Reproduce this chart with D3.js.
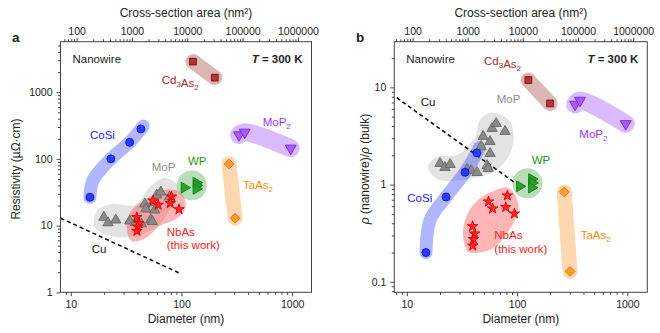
<!DOCTYPE html>
<html><head><meta charset="utf-8">
<script src="https://cdn.jsdelivr.net/npm/d3@7"></script>
<style>
body{margin:0;background:#fff}
svg{display:block}
text{font-family:"Liberation Sans",Arial,Helvetica,sans-serif;fill:#222}
</style>
</head><body>
<svg id="c" width="660" height="333"></svg>
<script>
// ---------- DATA (diameter nm, value) ----------
// Panel a: resistivity (µΩ·cm)
const aCd3As2 = [[127,2870],[200,1650]];
const aCoSi   = [[14.9,26.6],[23,100],[34,177],[43,281]];
const aMoP2   = [[331,228],[373,250],[971,144]];
const aTaAs2  = [[269,84],[305,12.9]];
const aWP     = [[106,37],[136,44],[137,40],[136,35.5]];
const aMoP    = [[19.9,13.3],[21.7,11.0],[25.5,12.1],[34.1,11.7],[38.3,11],[43.4,10.6],[52.7,12.1],[54.6,11.5],[57.4,17.1],[46.6,21],[47.6,17.7],[55,22],[59.8,28.7],[65,31.9],[78,26.8]];
const aNbAs   = [[55.4,23.6],[61.5,20.4],[81.3,27.1],[79.3,21.6],[95,17.5],[39.5,13.3],[41.2,10.8],[40.2,9.6],[39.6,8.3]];
const aCu     = [[8.1,12.9],[96.6,1.93]];
// shaded guides, panel a
const aCoSiBand = [[14.9,26.6],[15.9,48],[23,100],[34,177],[43,281],[45,310]];
const aMoPBlob  = [[16.5,9.5],[17.2,16.5],[23.4,21.1],[37.8,20.4],[51.8,37.9],[70.6,51.7],[92.6,39.2],[81.6,20.4],[61.1,9.9],[37.8,7.0],[22.5,7.0]];
const aNbAsBlob = [[34.1,15.5],[46.5,24.2],[70.6,34.2],[96.6,31.9],[109.5,19.7],[92.6,13.0],[63.7,9.86],[47.6,6.52],[35.6,5.88],[32.1,8.9]];
const aWPCircle = [124, 40];

// Panel b: rho(nanowire)/rho(bulk)
const bCd3As2 = [[126.5,11.9],[199,6.84]];
const bCoSi   = [[14.9,0.2],[22.7,0.746],[33.8,1.34],[43.2,2.12]];
const bMoP2   = [[336,6.68],[372,7.34],[967,4.22]];
const bTaAs2  = [[268,0.84],[302,0.128]];
const bWP     = [[105.7,0.96],[136,1.14],[137,1.04],[136,0.93]];
const bMoP    = [[20.0,1.65],[22.2,1.50],[24.7,1.61],[35.2,1.43],[38.3,1.39],[43.4,1.33],[53.5,1.57],[54.6,1.46],[56.9,2.09],[47.2,2.46],[56.9,2.77],[49.2,3.13],[59.3,3.78],[64.6,4.25],[77.8,3.52]];
const bNbAs   = [[55,0.668],[60,0.566],[81.6,0.77],[79,0.586],[94.6,0.502],[39.5,0.372],[41.2,0.313],[40.2,0.274],[39.6,0.235]];
const bCu     = [[8.1,7.83],[95,1.05]];
const bCoSiBand = [[14.9,0.2],[16.3,0.436],[22.7,0.746],[33.8,1.34],[43.2,2.12],[45.5,2.39]];
const bMoPBlob  = [[59,5.53],[86.5,4.46],[92,2.58],[77.8,1.73],[59.3,1.33],[33.8,1.13],[19.2,1.13],[15.6,1.5],[18.1,1.9],[29.2,2.04],[41.6,3.05],[46.3,4.68]];
const bNbAsBlob = [[82.8,0.93],[102,0.652],[95.9,0.436],[63.1,0.23],[44.3,0.199],[36,0.204],[32.4,0.291],[33.8,0.436],[41.6,0.652],[59.3,0.847]];
const bWPCircle = [124, 1.03];

const xMajor = [10,100,1000];
const areaMajor = [100,1000,10000,100000,1000000];
const aYMajor = [1,10,100,1000];
const bYMajor = [0.1,1,10];

// ---------- styles ----------
const C = {
  Cd3As2:{fill:"#b03838",stroke:"#7a1010",band:"#a83c3c",label:"#a52a2a"},
  CoSi:{fill:"#2a3cff",stroke:"#0a14c8",band:"#3040ff",label:"#1a1aff"},
  MoP2:{fill:"#a55cff",stroke:"#7a1fe0",band:"#9d4dff",label:"#9933ff"},
  TaAs2:{fill:"#ff9a33",stroke:"#ee7700",band:"#ff9933",label:"#ff8c00"},
  WP:{fill:"#2ea02e",stroke:"#0d7a0d",band:"#33a033",label:"#1a9a1a"},
  MoP:{fill:"#8a8a8a",stroke:"#686868",band:"#999999",label:"#8c8c8c"},
  NbAs:{fill:"#ff2424",stroke:"#e00000",band:"#ff3333",label:"#ff1a1a"}
};

const svg = d3.select("#c");

function minors(lo, hi){
  const out=[];
  for(let e=Math.floor(Math.log10(lo))-1;e<=Math.ceil(Math.log10(hi));e++){
    for(let k=2;k<=9;k++){const v=k*Math.pow(10,e); if(v>=lo&&v<=hi) out.push(+v.toPrecision(3));}
  }
  return out;
}

function panel(o){
  const g = svg.append("g");
  const x = d3.scaleLog().domain(o.xd).range([o.l,o.r]);
  const y = d3.scaleLog().domain(o.yd).range([o.b,o.t]);
  const ad = o.xd.map(d=>Math.PI/4*d*d);
  const xa = d3.scaleLog().domain(ad).range([o.l,o.r]);
  const pt = d=>[x(d[0]),y(d[1])];

  const band = (data, col, w)=>{
    g.append("path").attr("d", d3.line().x(d=>x(d[0])).y(d=>y(d[1])).curve(d3.curveCatmullRom)(data))
      .attr("fill","none").attr("stroke",col).attr("stroke-opacity",0.38)
      .attr("stroke-width",w).attr("stroke-linecap","round").attr("stroke-linejoin","round");
  };
  const blob = (data, col, op)=>{
    g.append("path").attr("d", d3.line().x(d=>x(d[0])).y(d=>y(d[1])).curve(d3.curveCatmullRomClosed)(data))
      .attr("fill",col).attr("fill-opacity",op).attr("stroke","none");
  };
  blob(o.MoPBlob, C.MoP.band, 0.28);
  blob(o.NbAsBlob, C.NbAs.band, 0.36);
  band(o.Cd3As2, C.Cd3As2.band, 15);
  band(o.CoSiBand, C.CoSi.band, 13);
  band(o.MoP2, C.MoP2.band, 18);
  band(o.TaAs2, C.TaAs2.band, 15);
  g.append("circle").attr("cx",x(o.WPc[0])).attr("cy",y(o.WPc[1])).attr("r",15)
    .attr("fill",C.WP.band).attr("fill-opacity",0.35);

  g.append("path").attr("d", d3.line().x(d=>x(d[0])).y(d=>y(d[1]))(o.Cu))
    .attr("stroke","#111").attr("stroke-width",1.6).attr("stroke-dasharray","4,3").attr("fill","none");

  const mark = (data, type, size, rot, st)=>{
    g.selectAll(null).data(data).join("path")
      .attr("d", d3.symbol(type,size)())
      .attr("transform", d=>`translate(${pt(d)}) rotate(${rot})`)
      .attr("fill",st.fill).attr("stroke",st.stroke).attr("stroke-width",0.9);
  };
  mark(o.MoP, d3.symbolTriangle, 46, 0, C.MoP);
  mark(o.NbAs, d3.symbolStar, 34, 0, C.NbAs);
  mark(o.CoSi, d3.symbolCircle, 50, 0, C.CoSi);
  mark(o.Cd3As2, d3.symbolSquare, 46, 0, C.Cd3As2);
  mark(o.MoP2, d3.symbolTriangle, 52, 180, C.MoP2);
  mark(o.TaAs2, d3.symbolSquare, 48, 45, C.TaAs2);
  mark(o.WP, d3.symbolTriangle, 50, 90, C.WP);

  g.append("rect").attr("x",o.l).attr("y",o.t).attr("width",o.r-o.l).attr("height",o.b-o.t)
    .attr("fill","none").attr("stroke","#444").attr("stroke-width",1);

  const styleAxis = s=>{s.select(".domain").remove(); s.selectAll("line").attr("stroke","#444");
    s.selectAll("text").attr("font-size","10.5px").attr("fill","#222").attr("font-family","Liberation Sans, Arial, sans-serif");};
  g.append("g").attr("transform",`translate(0,${o.b})`)
    .call(d3.axisBottom(x).tickValues(o.xMajor).tickSize(4).tickPadding(4).tickFormat(d=>String(d))).call(styleAxis);
  g.append("g").attr("transform",`translate(0,${o.b})`)
    .call(d3.axisBottom(x).tickValues(minors(o.xd[0],o.xd[1])).tickSize(2.5).tickFormat("")).call(styleAxis);
  g.append("g").attr("transform",`translate(0,${o.t})`)
    .call(d3.axisTop(xa).tickValues(areaMajor).tickSize(4).tickPadding(3).tickFormat(d=>String(d))).call(styleAxis);
  g.append("g").attr("transform",`translate(0,${o.t})`)
    .call(d3.axisTop(xa).tickValues(minors(ad[0],ad[1])).tickSize(2.5).tickFormat("")).call(styleAxis);
  g.append("g").attr("transform",`translate(${o.l},0)`)
    .call(d3.axisLeft(y).tickValues(o.yMajor).tickSize(4).tickPadding(4).tickFormat(d=>String(d))).call(styleAxis);
  g.append("g").attr("transform",`translate(${o.l},0)`)
    .call(d3.axisLeft(y).tickValues(minors(o.yd[0],o.yd[1])).tickSize(2.5).tickFormat("")).call(styleAxis);

  const cx=(o.l+o.r)/2;
  g.append("text").attr("x",cx).attr("y",17).attr("text-anchor","middle").attr("font-size","12px").text("Cross-section area (nm²)");
  g.append("text").attr("x",cx).attr("y",323).attr("text-anchor","middle").attr("font-size","12px").text("Diameter (nm)");
  g.append("text").attr("x",o.letter[0]).attr("y",o.letter[1]).attr("font-size","13.5px").attr("font-weight","bold").text(o.letterText);
  g.append("text").attr("x",o.l+12).attr("y",63).attr("font-size","11.5px").text("Nanowire");
  const tt = g.append("text").attr("x",o.r-9).attr("y",63).attr("text-anchor","end").attr("font-size","11.5px").attr("font-weight","bold");
  tt.append("tspan").attr("font-style","italic").text("T");
  tt.append("tspan").text(" = 300 K");
  return g;
}

function label(g, x, y, parts, color){
  const t = g.append("text").attr("x",x).attr("y",y).attr("font-size","11.5px").style("fill",color);
  parts.forEach(p=>{
    if(typeof p==="string") t.append("tspan").text(p).style("fill",color);
    else t.append("tspan").attr("font-size","8px").attr("dy",p.dy).text(p.t).style("fill",color);
  });
  return t;
}

const ga = panel({l:60.5,r:311.5,t:41.7,b:292.3,xd:[8.07,1496],yd:[1,5700],xMajor:xMajor,yMajor:aYMajor,
  Cd3As2:aCd3As2,CoSi:aCoSi,MoP2:aMoP2,TaAs2:aTaAs2,WP:aWP,MoP:aMoP,NbAs:aNbAs,Cu:aCu,
  CoSiBand:aCoSiBand,MoPBlob:aMoPBlob,NbAsBlob:aNbAsBlob,WPc:aWPCircle,letter:[12,42],letterText:"a"});
const gb = panel({l:394.3,r:647.3,t:41.7,b:292.3,xd:[7.7,1517],yd:[0.078,29.5],xMajor:xMajor,yMajor:bYMajor,
  Cd3As2:bCd3As2,CoSi:bCoSi,MoP2:bMoP2,TaAs2:bTaAs2,WP:bWP,MoP:bMoP,NbAs:bNbAs,Cu:bCu,
  CoSiBand:bCoSiBand,MoPBlob:bMoPBlob,NbAsBlob:bNbAsBlob,WPc:bWPCircle,letter:[356,42],letterText:"b"});

svg.append("text").attr("transform","translate(20,169) rotate(-90)").attr("text-anchor","middle").attr("font-size","12px").text("Resistivity (µΩ·cm)");
const yb = svg.append("text").attr("transform","translate(369,169) rotate(-90)").attr("text-anchor","middle").attr("font-size","12px");
yb.append("tspan").attr("font-style","italic").text("ρ");
yb.append("tspan").text(" (nanowire)/");
yb.append("tspan").attr("font-style","italic").text("ρ");
yb.append("tspan").text(" (bulk)");

label(ga,161.7,84,["Cd",{t:"3",dy:3},{t:"",dy:-3},"As",{t:"2",dy:3}],C.Cd3As2.label);
label(ga,90,139,["CoSi"],C.CoSi.label);
label(ga,262.7,126,["MoP",{t:"2",dy:3}],C.MoP2.label);
label(ga,151.7,171,["MoP"],C.MoP.label);
label(ga,188,165,["WP"],C.WP.label);
label(ga,243,189,["TaAs",{t:"2",dy:3}],C.TaAs2.label);
label(ga,166.7,236,["NbAs"],C.NbAs.label);
label(ga,166.7,249,["(this work)"],C.NbAs.label);
label(ga,91.7,253,["Cu"],"#111");
label(gb,484,65,["Cd",{t:"3",dy:3},{t:"",dy:-3},"As",{t:"2",dy:3}],C.Cd3As2.label);
label(gb,420.7,106,["Cu"],"#111");
label(gb,496.7,103,["MoP"],C.MoP.label);
label(gb,579.3,138,["MoP",{t:"2",dy:3}],C.MoP2.label);
label(gb,531.7,164,["WP"],C.WP.label);
label(gb,407.3,201.7,["CoSi"],C.CoSi.label);
label(gb,494.3,239,["NbAs"],C.NbAs.label);
label(gb,494.3,252.5,["(this work)"],C.NbAs.label);
label(gb,580.7,239,["TaAs",{t:"2",dy:3}],C.TaAs2.label);
</script>
</body></html>
